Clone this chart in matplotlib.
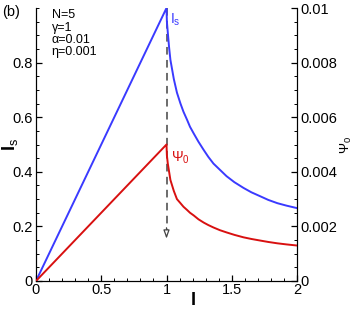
import matplotlib
matplotlib.use("Agg")
import matplotlib.pyplot as plt
from matplotlib.ticker import MultipleLocator, FixedLocator

plt.rcParams['font.family'] = ['Liberation Sans', 'DejaVu Sans']
plt.rcParams['mathtext.fontset'] = 'custom'
plt.rcParams['mathtext.rm'] = 'Liberation Sans'
plt.rcParams['mathtext.it'] = 'Liberation Sans:italic'
plt.rcParams['mathtext.bf'] = 'Liberation Sans:bold'
plt.rcParams['mathtext.default'] = 'regular'

# values
I = [0.0, 1.0, 1.003, 1.01, 1.02, 1.03, 1.056, 1.08, 1.107, 1.13, 1.158, 1.18, 1.209,
     1.245, 1.285, 1.32, 1.36, 1.41, 1.46, 1.52, 1.59, 1.65, 1.72, 1.78, 1.85, 1.92, 2.0]
Is = [0.0, 1.0, 0.95, 0.91, 0.855, 0.81, 0.74, 0.69, 0.65, 0.62, 0.59, 0.565, 0.54,
      0.51, 0.48, 0.455, 0.43, 0.407, 0.384, 0.362, 0.341, 0.325, 0.31, 0.297, 0.285, 0.276, 0.267]
psi0 = [0.0, 0.005, 0.0046, 0.0043, 0.0040, 0.0037, 0.0033, 0.0030, 0.00285, 0.00272,
        0.0026, 0.0025, 0.0024, 0.00226, 0.00214, 0.00205, 0.00196, 0.00186, 0.00178,
        0.00169, 0.0016, 0.00154, 0.00148, 0.00143, 0.00138, 0.00134, 0.0013]

x_ticks = [0, 0.5, 1, 1.5, 2]
x_labels = ["0", "0.5", "1", "1.5", "2"]
left_ticks = [0, 0.2, 0.4, 0.6, 0.8]
left_labels = ["0", "0.2", "0.4", "0.6", "0.8"]
right_ticks = [0, 0.002, 0.004, 0.006, 0.008, 0.01]
right_labels = ["0", "0.002", "0.004", "0.006", "0.008", "0.01"]

arrow_x = 1.0
arrow_top = 1.0
arrow_tip = 0.155

params = "N=5\n\u03b3=1\n\u03b1=0.01\n\u03b7=0.001"

blue = "#3a3aff"
red = "#d81010"

fig = plt.figure(figsize=(3.54, 3.11), dpi=100)
ax = fig.add_axes([36/354, 30/311, 261/354, 273/311])
ax2 = ax.twinx()

ax.plot(I, Is, color=blue, lw=1.4, zorder=3)
ax2.plot(I, psi0, color=red, lw=1.4, zorder=3)

# dashed line with open arrow head
ax.plot([arrow_x, arrow_x], [arrow_top, arrow_tip + 0.03], color="#444444", lw=1.1,
        dashes=(5, 3.5), zorder=2)
ax.annotate("", xy=(arrow_x, arrow_tip), xytext=(arrow_x, arrow_tip + 0.04),
            arrowprops=dict(arrowstyle="-|>,head_length=0.5,head_width=0.18",
                            fc="white", ec="#444444", lw=0.9, shrinkA=0, shrinkB=0))

ax.set_xlim(0, 2)
ax.set_ylim(0, 1)
ax2.set_ylim(0, 0.01)

ax.xaxis.set_major_locator(FixedLocator(x_ticks))
ax.set_xticklabels(x_labels)
ax.xaxis.set_minor_locator(MultipleLocator(0.1))
ax.yaxis.set_major_locator(FixedLocator(left_ticks))
ax.set_yticklabels(left_labels)
ax.yaxis.set_minor_locator(MultipleLocator(0.05))
ax2.yaxis.set_major_locator(FixedLocator(right_ticks))
ax2.set_yticklabels(right_labels)
ax2.yaxis.set_minor_locator(MultipleLocator(0.0005))

for a in (ax, ax2):
    a.spines['top'].set_visible(False)
    a.tick_params(which='major', direction='in', length=4, width=0.9, labelsize=10.5, pad=2.5)
    a.tick_params(which='minor', direction='in', length=2.2, width=0.7)
ax.tick_params(axis='x', pad=1.5)
ax.tick_params(right=False, top=False)
ax.tick_params(axis='y', which='minor', right=False)

ax.set_xlabel(r"$\mathbf{I}$", fontsize=13)
ax.xaxis.set_label_coords(0.6, -0.04)
ax.set_ylabel(r"$\mathbf{I}_s$", fontsize=13)
ax.yaxis.set_label_coords(-0.06, 0.5)
ax2.set_ylabel(r"$\Psi_0$", fontsize=9.5, rotation=90)
ax2.yaxis.set_label_coords(1.16, 0.5)

ax.text(1.03, 0.985, r"$I_s$", color=blue, fontsize=10, va='top', ha='left')
ax2.text(1.035, 0.0045, r"$\Psi_0$", color=red, fontsize=10, va='center', ha='left')
ax.text(0.12, 0.995, params, fontsize=9, va='top', ha='left', linespacing=1.02)
fig.text(0.005, 0.985, "(b)", fontsize=10.5, va='top', ha='left')

fig.savefig("out.png", dpi=100)
